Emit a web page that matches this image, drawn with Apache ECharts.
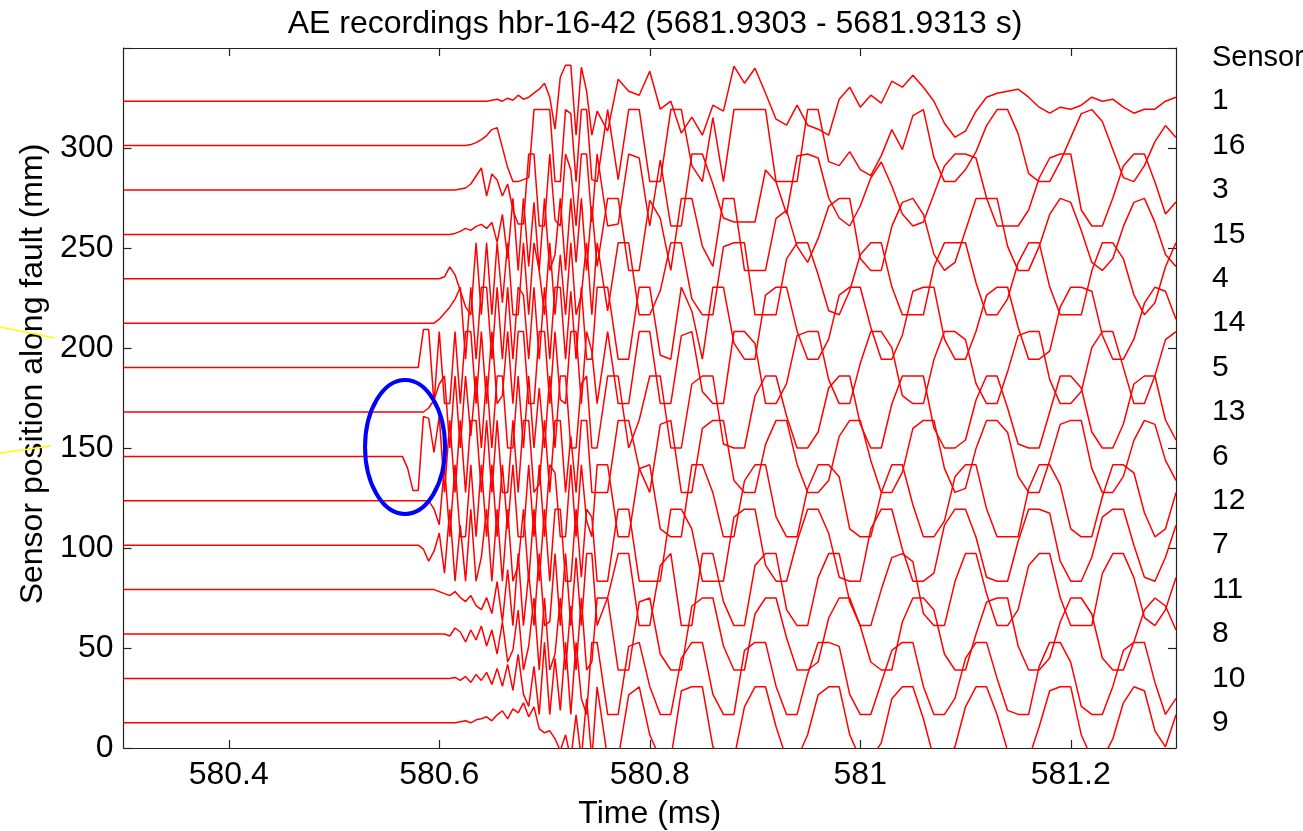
<!DOCTYPE html>
<html>
<head>
<meta charset="utf-8">
<script src="https://cdn.jsdelivr.net/npm/echarts@6/dist/echarts.min.js"></script>
<style>html,body{margin:0;padding:0;background:#fff;}#c{width:1303px;height:831px;}</style>
</head>
<body>
<div id="c"></div>
<script>
// ---- data ----
const startTime = 580.3;
const times = [
580.55,580.555,580.56,580.565,580.57,580.575,580.58,580.585,580.59,580.595,
580.6,580.605,580.61,580.615,580.62,580.625,580.63,580.635,580.64,580.645,
580.65,580.655,580.66,580.665,580.67,580.675,580.68,580.685,580.69,580.695,
580.7,580.705,580.71,580.715,580.72,580.725,580.73,580.735,580.74,580.745,
580.75,580.76,580.77,580.78,580.79,580.8,580.81,580.82,580.83,580.84,
580.85,580.86,580.87,580.88,580.89,580.9,580.91,580.92,580.93,580.94,
580.95,580.96,580.97,580.98,580.99,581,581.01,581.02,581.03,581.04,
581.05,581.06,581.07,581.08,581.09,581.1,581.11,581.12,581.13,581.14,
581.15,581.16,581.17,581.18,581.19,581.2,581.21,581.22,581.23,581.24,
581.25,581.26,581.27,581.28,581.29,581.3];

const sensorNames = ['1','16','3','15','4','14','5','13','6','12','7','11','8','10','9'];
const baselines = [323.4,301.2,279,256.8,234.6,212.4,190.2,168,145.8,123.6,101.4,79.2,57,34.8,12.6];

const s1 = [0,0,0,0,0,0,0,0,0,0, 0,0,0,0,0,0,0,0,0,0,
0.5,1,0,1.5,0.5,3,1,2,4,6, 9,2,-14,12,18,18,-17,17,5,-17,
-5,-15,11,5,3,15,-4,0,-16,-8, -17,-2,-5,17.5,9,16.5,4,-9,-12,-2,
-12,-14,-17,1,7,-3,3,-1,10,7, 13,7,0,-11,-18,-15,-5,2,4,5,
6,2,-3,-6,-3,-4,-2,2,0,1, -3,-6,-4,-4,0,2];
const s16 = [0,0,0,0,0,0,0,0,0,0, 0,0,0,0,0,0,0.5,1.5,3,5,
8,9,-1,-11,-18,-18,-17,-16,18,18, 18,18,-18,-18,18,16,-18,18,18,-17,
-18,18,-17,18,18,-18,-18,18,18,-10, -18,14,-18,18,18,18,18,-18,-18,-18,
18,18,-8,-10,-3,-12,-15,-5,8,-2, 15,18,-6,-18,-18,-12,-3,10,18,18,
6,-14,-18,-18,-8,4,16,18,12,-2, -16,-18,-10,2,10,4];
const s3 = [0,0,0,0,0,0,0,0,0,0, 0,0,0,0,0.5,1,3,7,11,-3,
8,5,-3,3,-10,-17,-17,18,18,-18, -18,18,-15,-18,18,10,-18,18,18,-16,
18,-18,-17,18,16,-18,15,-18,-18,18, 18,3,-14,-16,-16,-16,10,4,-12,17,
18,16,-4,-14,-18,-8,6,14,2,-12, -18,-16,-2,12,18,18,16,-4,-18,-18,
-18,-10,6,16,18,18,-10,-18,-18,-4, 12,18,18,4,-12,-6];
const s15 = [0,0,0,0,0,0,0,0,0,0, 0,0,0,0.5,1.5,3,2,4,5,3,
6,-4,10,-12,18,-18,18,-16,16,-18, 18,-18,-10,18,-18,18,-14,18,-18,14,
-16,18,18,-18,-18,17,8,-18,18,18, -6,-16,18,18,-18,-18,-18,8,12,-6,
-14,-2,14,18,18,-12,-18,-18,4,16, 18,10,-10,-18,-14,2,18,18,18,-6,
-18,-18,-6,10,18,16,2,-14,-18,-12, 4,16,18,6,-10,-16];
const s4 = [0,0,0,0,0,0,0,0,0,0, 0,1,6,2,-6,-14,-18,18,-18,18,
-18,18,-12,18,-18,-18,18,-18,18,4, -18,18,-18,12,-18,18,-18,-8,18,-18,
18,-16,18,18,-18,-18,-6,18,18,-10, -18,-18,16,18,18,-18,-18,-18,10,18,
18,2,-16,-18,-6,12,18,18,-4,-18, -18,-18,6,18,18,18,-2,-18,-18,-10,
8,18,18,-4,-18,-18,-18,4,18,18, 10,-8,-18,-12,6,18];
const s14 = [0,0,0,0,0,0,0,0,0,0, 2,5,8,12,18,-18,18,-18,18,18,
-18,18,-18,18,-18,18,14,-18,18,-18, 18,-18,18,18,-18,16,-18,18,-18,-18,
18,18,-18,-18,18,18,-16,-18,18,6, -18,18,18,-10,-18,-18,14,18,18,-4,
-18,-18,-8,14,18,18,-2,-18,-18,-6, 16,18,18,-8,-18,-18,-4,14,18,18,
-2,-18,-18,-14,8,18,18,16,-6,-18, -18,-8,10,18,16,2];
const s5 = [0,0,0,0,0,0,0,19,19,-18, 18,-18,-18,18,-18,18,18,-18,18,-18,
18,-18,-14,18,-18,18,18,-18,-18,18, 18,-18,18,-16,-18,18,18,-18,18,8,
-18,18,-18,-18,18,18,-18,-18,16,18, -12,-18,-18,18,18,12,-18,-18,-8,16,
18,18,-6,-18,-18,2,18,18,10,-14, -18,-18,4,18,18,14,-8,-18,-18,-2,
16,18,18,-6,-18,-18,-12,10,18,18, 0,-18,-18,-4,14,18];
const s13 = [0,0,0,0,0,0,0,0,2,6, 14,18,-18,18,-18,18,-12,18,-18,18,
-18,18,18,-18,-18,18,-18,18,-18,12, -18,18,-18,18,18,-18,-18,14,18,-18,
-18,18,18,-18,-4,18,18,-18,-18,14, 18,18,-16,-18,-18,8,18,18,-2,-18,
-18,-10,12,18,18,-6,-18,-18,4,18, 18,18,-8,-18,-18,-14,6,18,18,2,
-16,-18,-18,0,18,18,12,-10,-18,-18, -6,14,18,18,-4,-14];
const s6 = [0,0,0,0,-6,-17,-17,20,19,2, 20,-18,18,-18,18,-18,18,18,-18,18,
-18,18,-18,-18,18,-18,18,18,-18,-14, 18,-18,18,18,-18,10,-18,18,18,-18,
-18,-18,18,18,-6,-18,16,18,-18,-18, 14,18,18,-12,-18,-18,6,18,18,-4,
-18,-18,-12,10,18,18,-2,-18,-18,-8, 14,18,18,-6,-18,-16,4,18,18,12,
-10,-18,-18,-2,16,18,18,-6,-18,-18, -10,8,18,16,-2,-12];
const s12 = [0,0,0,0,0,0,0,0,0,-4, -12,18,-18,18,-18,-18,18,-18,18,-18,
18,-18,18,-14,18,-18,-18,18,-18,18, -18,18,14,-18,-18,18,-18,18,-10,-18,
18,18,-18,-18,16,18,-14,-18,-18,18, 18,4,-18,-18,10,18,18,-8,-18,-18,
6,18,18,12,-14,-18,-18,4,18,18, -2,-18,-18,-10,12,18,18,-4,-18,-18,
-18,6,18,18,8,-14,-18,-18,2,18, 18,14,-6,-18,-14,4];
const s7 = [0,0,0,0,0,0,0,-2,-8,-3, 6,-14,18,-18,10,-18,18,-18,-6,18,
-18,18,-18,18,-18,-10,18,-18,18,-18, 18,-18,18,18,-18,-18,18,-16,18,14,
-18,-18,18,18,-18,-18,-18,18,18,8, -18,-18,-18,14,18,18,-10,-18,-18,2,
18,18,6,-16,-18,-18,8,18,18,-2, -18,-18,-14,10,18,18,4,-16,-18,-18,
2,18,18,16,-8,-18,-18,-6,14,18, 18,0,-16,-18,-6,10];
const s11 = [0,0,0,0,0,0,0,0,0,0, -1,-2,-3,-1,-4,-6,-3,-8,-10,-4,
-12,4,-16,10,-18,18,-18,8,-18,18, -18,-16,18,-18,18,-18,16,-18,18,18,
-18,-4,18,18,-18,-18,12,18,-18,-18, 18,18,-6,-18,-18,12,18,18,-10,-18,
-18,6,18,18,-6,-18,-18,0,16,18, 14,-12,-18,-18,4,18,18,-2,-18,-18,
-10,12,18,18,-4,-18,-18,-18,8,18, 18,6,-14,-18,-10,6];
const s8 = [0,0,0,0,0,0,0,0,0,0, 0,0,-1,3,1,-4,2,-3,4,-6,
2,-10,6,-14,-8,12,-18,-6,18,-18, 18,-18,-10,18,-18,14,-18,18,-18,-14,
18,18,-18,-18,16,18,-10,-18,-18,14, 18,18,-6,-18,-18,10,18,18,-2,-18,
-18,-14,8,18,18,4,-14,-18,-18,6, 18,18,12,-10,-18,-18,0,16,18,18,
-6,-18,-18,-12,6,18,18,10,-12,-18, -18,-4,12,18,14,2];
const s10 = [0,0,0,0,0,0,0,0,0,0, 0,0,0,0.5,-1,1,-2,2,-1,3,
-3,5,-4,7,-6,12,-8,-14,6,-18, 18,-18,10,-16,18,-18,18,-10,-18,18,
18,-18,-18,16,18,-4,-18,-18,10,18, 18,-8,-18,-18,14,18,18,-4,-18,-18,
2,18,18,16,-8,-18,-18,-2,14,18, 18,-4,-18,-18,-10,10,18,18,0,-16,
-18,-18,6,18,18,8,-14,-18,-18,-4, 14,18,18,-2,-18,-10];
const s9 = [0,0,0,0,0,0,0,0,0,0, 0,0,0,0,0.5,1,0,1.5,2,3,
1,4,6,2,7,5,10,3,8,-3, -5,-4,-8,-14,-6,-18,4,-18,12,-18,
18,-18,-18,14,18,-6,-18,-18,16,18, 18,-12,-18,-18,8,18,18,-2,-18,-18,
-6,14,18,18,-6,-18,-18,-10,12,18, 18,2,-18,-18,-12,8,18,18,4,-14,
-18,-18,-2,16,18,18,-6,-18,-18,-8, 10,18,16,-4,-12,4];

const traces = [s1,s16,s3,s15,s4,s14,s5,s13,s6,s12,s7,s11,s8,s10,s9];

const xTickValues = [580.4, 580.6, 580.8, 581, 581.2];
const yMin = 0, yMax = 350, yInterval = 50;

// ---- chart ----
const FONT = 'Liberation Sans, Arial, sans-serif';
const chart = echarts.init(document.getElementById('c'), null, {renderer: 'canvas'});

const series = traces.map((vals, k) => ({
  type: 'line',
  name: 'Sensor ' + sensorNames[k],
  data: [[startTime, baselines[k]]].concat(times.map((t, i) => [t, baselines[k] + vals[i]])),
  showSymbol: false,
  symbol: 'none',
  clip: true,
  lineStyle: {color: '#ff0000', width: 1.5},
  itemStyle: {color: '#ff0000'},
  silent: true,
  animation: false
}));

const axisCommonX = {
  type: 'value', min: startTime, max: 581.3,
  splitLine: {show: false},
  axisLine: {show: true, onZero: false, lineStyle: {color: '#222', width: 1.2}},
  axisTick: {show: true, inside: true, length: 8, customValues: xTickValues, lineStyle: {color: '#222', width: 1.2}}
};
const axisCommonY = {
  type: 'value', min: yMin, max: yMax, interval: yInterval,
  splitLine: {show: false},
  axisLine: {show: true, onZero: false, lineStyle: {color: '#222', width: 1.2}},
  axisTick: {show: true, inside: true, length: 8, lineStyle: {color: '#222', width: 1.2}}
};

chart.setOption({
  backgroundColor: '#fff',
  animation: false,
  title: {
    text: 'AE recordings hbr-16-42 (5681.9303 - 5681.9313 s)',
    left: 650, textAlign: 'center', top: 3,
    textStyle: {fontFamily: FONT, fontSize: 32, fontWeight: 'normal', color: '#000'}
  },
  grid: {left: 123.5, right: 127, top: 48, bottom: 83, containLabel: false, outerBoundsMode: 'none'},
  xAxis: [
    Object.assign({}, axisCommonX, {
      position: 'bottom',
      name: 'Time (ms)', nameLocation: 'middle', nameGap: 50, nameMoveOverlap: false,
      nameTextStyle: {fontFamily: FONT, fontSize: 32, color: '#000'},
      axisLabel: {show: true, customValues: xTickValues, margin: 11,
        fontFamily: FONT, fontSize: 32, color: '#000',
        formatter: v => String(Number(v.toFixed(1)))}
    }),
    Object.assign({}, axisCommonX, {position: 'top', axisLabel: {show: false}})
  ],
  yAxis: [
    Object.assign({}, axisCommonY, {
      position: 'left',
      axisLabel: {show: true, margin: 10, fontFamily: FONT, fontSize: 32, color: '#000',
        formatter: v => (v >= yMax ? '' : String(v))}
    }),
    Object.assign({}, axisCommonY, {position: 'right', axisLabel: {show: false}})
  ],
  series: series
});

// annotations: y-axis title, right-hand sensor labels, blue ellipse, yellow marks
const ellipseCenter = [580.5675, 150.5];
const ellipseHalf = [0.038, 33.5];
function drawGraphics() {
  const els = [];
  els.push({type: 'text', x: 33, y: 374, rotation: Math.PI / 2,
    style: {text: 'Sensor position along fault (mm)', fontFamily: FONT, fontSize: 32, fill: '#000',
      align: 'center', verticalAlign: 'middle'}});
  const xLab = chart.convertToPixel({xAxisIndex: 0}, 581.3) + 36;
  els.push({type: 'text', x: xLab, y: 58,
    style: {text: 'Sensor', fontFamily: FONT, fontSize: 29, fill: '#000', verticalAlign: 'middle', align: 'left'}});
  baselines.forEach((b, k) => {
    const y = chart.convertToPixel({yAxisIndex: 0}, b);
    els.push({type: 'text', x: xLab, y: y, style: {text: sensorNames[k], fontFamily: FONT, fontSize: 30,
      fill: '#000', verticalAlign: 'middle', align: 'left'}});
  });
  const c = chart.convertToPixel({xAxisIndex: 0, yAxisIndex: 0}, ellipseCenter);
  const e = chart.convertToPixel({xAxisIndex: 0, yAxisIndex: 0},
    [ellipseCenter[0] + ellipseHalf[0], ellipseCenter[1] + ellipseHalf[1]]);
  els.push({type: 'ellipse', shape: {cx: c[0], cy: c[1], rx: Math.abs(e[0] - c[0]), ry: Math.abs(e[1] - c[1])},
    style: {fill: 'none', stroke: '#0000ff', lineWidth: 4}, z: 100});
  els.push({type: 'line', shape: {x1: 0, y1: 327, x2: 55, y2: 338}, style: {stroke: '#ffff00', lineWidth: 1.5}});
  els.push({type: 'line', shape: {x1: 0, y1: 453, x2: 51, y2: 446}, style: {stroke: '#ffff00', lineWidth: 1.5}});
  chart.setOption({graphic: els});
}
drawGraphics();
</script>
</body>
</html>
